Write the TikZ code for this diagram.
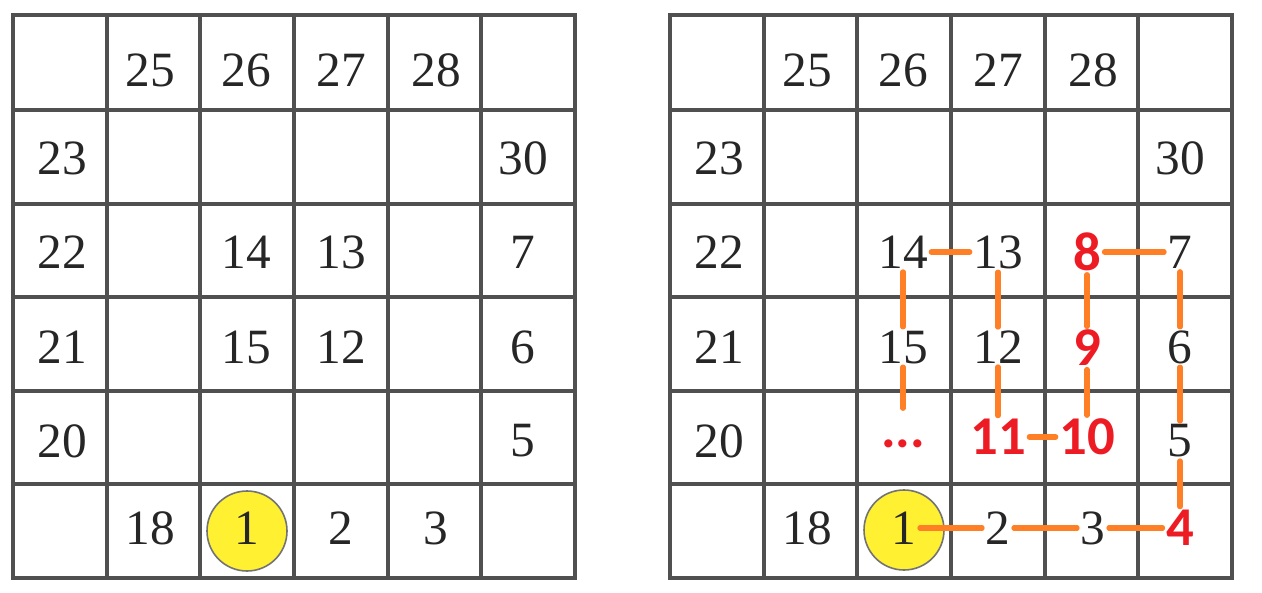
\documentclass[tikz,border=0pt]{standalone}
\usepackage{fontspec}
\setmainfont{Liberation Serif}
\newfontfamily\numfont{Liberation Serif}
\newfontfamily\redfont{Carlito}[BoldFont={Carlito Bold}]
\definecolor{pathorange}{RGB}{255,127,39}
\definecolor{numred}{RGB}{237,28,36}
\definecolor{discyellow}{RGB}{255,240,50}
\definecolor{gridgray}{RGB}{80,80,80}
\begin{document}
\begin{tikzpicture}[x=0.75pt,y=-0.75pt,
  gridline/.style={draw=gridgray,line width=2.4pt,line cap=rect},
  num/.style={font=\numfont\fontsize{37}{40}\selectfont,text=black!85,inner sep=2.5pt},
  rednum/.style={font=\redfont\bfseries\fontsize{41}{44}\selectfont,text=numred,inner sep=2.5pt},
  disc/.style={circle,draw=black!55,line width=1.2pt,fill=discyellow,minimum size=60pt,inner sep=0pt},
  link/.style={draw=pathorange,line width=3.9pt,line cap=round}]
\useasboundingbox (0,0) rectangle (1262,592);
% grids
\foreach \ox in {0,657}{
  \foreach \gx in {13,107,200,294,388,481,575}{
    \draw[gridline] (\gx+\ox,15) -- (\gx+\ox,578);
  }
  \foreach \gy in {15,110,204,297,391,484,578}{
    \draw[gridline] (13+\ox,\gy) -- (575+\ox,\gy);
  }
}
% left grid
\node[num] (L25) at (150,70) {25};
\node[num] (L26) at (246,70) {26};
\node[num] (L27) at (341,70) {27};
\node[num] (L28) at (436,70) {28};
\node[num] (L23) at (62,158) {23};
\node[num] (L30) at (523,158) {30};
\node[num] (L22) at (62,252) {22};
\node[num] (L14) at (246,252) {14};
\node[num] (L13) at (341,252) {13};
\node[num] (L7) at (523,252) {7};
\node[num] (L21) at (62,347) {21};
\node[num] (L15) at (246,347) {15};
\node[num] (L12) at (341,347) {12};
\node[num] (L6) at (523,347) {6};
\node[num] (L20) at (62,441) {20};
\node[num] (L5) at (523,441) {5};
\node[num] (L18) at (150,528) {18};
\node[disc] (Lc) at (247,531) {};
\node[num] (L1) at (247,528) {1};
\node[num] (L2) at (341,528) {2};
\node[num] (L3) at (436,528) {3};
% right grid
\node[num] (R25) at (807,70) {25};
\node[num] (R26) at (903,70) {26};
\node[num] (R27) at (998,70) {27};
\node[num] (R28) at (1093,70) {28};
\node[num] (R23) at (719,158) {23};
\node[num] (R30) at (1180,158) {30};
\node[num] (R22) at (719,252) {22};
\node[num] (R14) at (903,252) {14};
\node[num] (R13) at (998,252) {13};
\node[rednum] (R8) at (1087,252) {8};
\node[num] (R7) at (1180,252) {7};
\node[num] (R21) at (719,347) {21};
\node[num] (R15) at (903,347) {15};
\node[num] (R12) at (998,347) {12};
\node[rednum] (R9) at (1087,348) {9};
\node[num] (R6) at (1180,347) {6};
\node[num] (R20) at (719,441) {20};
\node[rednum] (Rdots) at (903,430) {\vphantom{0}...};
\node[rednum] (R11) at (998,437) {11};
\node[rednum] (R10) at (1087,437) {10};
\node[num] (R5) at (1180,441) {5};
\node[num] (R18) at (807,528) {18};
\node[disc] (Rc) at (904,530) {};
\node[num] (R1) at (904,528) {1};
\node[num] (R2) at (998,528) {2};
\node[num] (R3) at (1093,528) {3};
\node[rednum] (R4) at (1180,528) {4};
% path
\draw[link] (R1) -- (R2);
\draw[link] (R2) -- (R3);
\draw[link] (R3) -- (R4);
\draw[link] (R4) -- (R5);
\draw[link] (R5) -- (R6);
\draw[link] (R6) -- (R7);
\draw[link] (R7) -- (R8);
\draw[link] (R8) -- (R9);
\draw[link] (R9) -- (R10);
\draw[link] (R10) -- (R11);
\draw[link] (R11) -- (R12);
\draw[link] (R12) -- (R13);
\draw[link] (R13) -- (R14);
\draw[link] (R14) -- (R15);
\draw[link] (R15) -- (Rdots);
\end{tikzpicture}
\end{document}
